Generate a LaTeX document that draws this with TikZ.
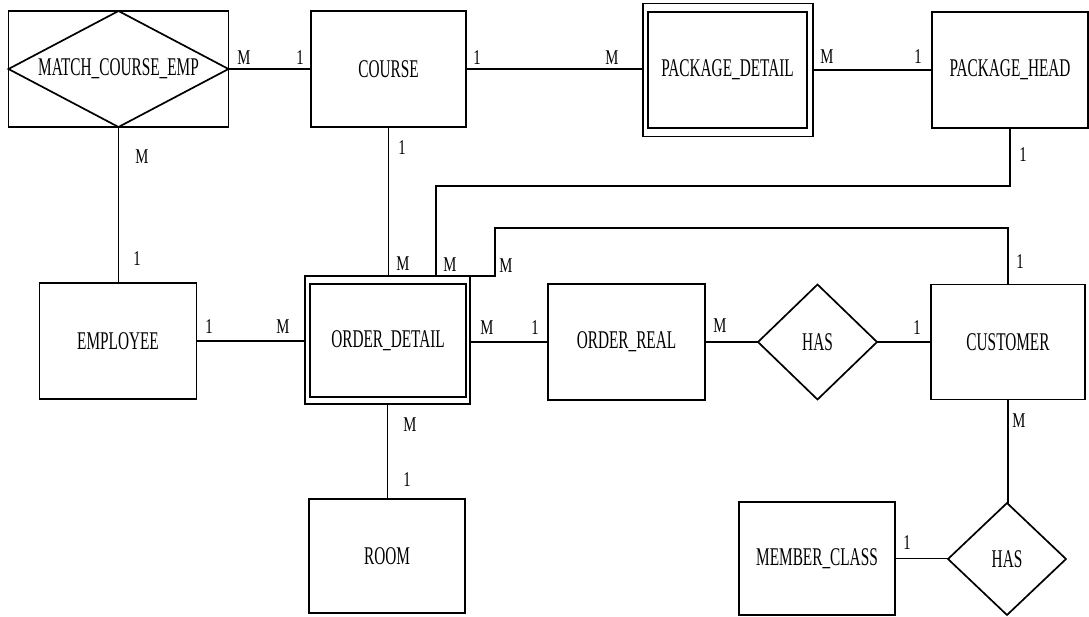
\documentclass[tikz,border=0pt]{standalone}
\usepackage{fontspec}
\setmainfont{Liberation Serif}[FakeStretch=0.6]
\newfontfamily\cardfont{Liberation Serif}[FakeStretch=0.7]
\usetikzlibrary{shapes.geometric}
\begin{document}
\begin{tikzpicture}[x=1pt,y=-1pt,
  ent/.style={draw, line width=1.9pt, minimum width=156pt, minimum height=116pt,
    inner sep=0pt, outer sep=0pt, font=\fontsize{25.5}{27}\selectfont},
  rel/.style={draw, diamond, line width=1.7pt, inner sep=0pt, outer sep=0pt,
    minimum width=119pt, minimum height=115pt, font=\fontsize{25.5}{27}\selectfont},
  conn/.style={line width=1.8pt},
  vconn/.style={line width=1.5pt},
  card/.style={font=\cardfont\fontsize{21}{23}\selectfont, inner sep=0pt}
]
\useasboundingbox[fill=white] (0,0) rectangle (1089,616);

% ---- top row ----
\node[ent, minimum width=220pt] (mce) at (118.5,69) {MATCH\_COURSE\_EMP};
\draw[line width=1.7pt] (mce.west) -- (mce.north) -- (mce.east) -- (mce.south) -- cycle;
\node[ent, minimum width=155pt] (course) at (388.5,69) {COURSE};
\node[ent, minimum width=170pt, minimum height=133pt] (pdo) at (728,70) {};
\node[ent, minimum width=159pt, minimum height=116pt] (pd) at (727.5,70) {PACKAGE\_DETAIL};
\node[ent] (ph) at (1010,70) {PACKAGE\_HEAD};

% ---- middle row ----
\node[ent, minimum width=157pt] (emp) at (118,341) {EMPLOYEE};
\node[ent, minimum width=165pt, minimum height=128pt] (odo) at (387.5,340) {};
\node[ent, minimum width=156pt, minimum height=113pt] (od) at (388,340.5) {ORDER\_DETAIL};
\node[ent, minimum width=157pt] (or) at (626.5,342) {ORDER\_REAL};
\node[rel] (has1) at (817.5,342) {HAS};
\node[ent, minimum width=154pt, minimum height=115pt] (cust) at (1008,342) {CUSTOMER};

% ---- bottom row ----
\node[ent, minimum height=114pt] (room) at (387,556) {ROOM};
\node[ent, minimum height=113pt] (mc) at (817,558.5) {MEMBER\_CLASS};
\node[rel, minimum width=118pt, minimum height=112pt] (has2) at (1007,559) {HAS};

% ---- connectors ----
\draw[conn] (mce.east) -- (mce.east -| course.west);
\draw[conn] (course.east) -- (course.east -| pdo.west);
\draw[conn] (pdo.east) -- (pdo.east -| ph.west);
\draw[conn] (emp.east) -- (emp.east -| odo.west);
\draw[conn] (odo.east |- or.west) -- (or.west);
\draw[conn] (or.east) -- (has1.west);
\draw[conn] (has1.east) -- (cust.west);
\draw[conn] (mc.east) -- (mc.east -| has2.west);

\draw[vconn] (mce.south) -- (mce.south |- emp.north);
\draw[vconn] (course.south) -- (course.south |- odo.north);
\coordinate (j1) at (436,186);
\draw[vconn] (ph.south) |- (j1) -- (j1 |- odo.north);
\coordinate (j2) at (495,228);
\draw[vconn] (cust.north) |- (j2) -- (j2 |- odo.north) -- (odo.north east);
\draw[vconn] (odo.south) -- (odo.south |- room.north);
\draw[vconn] (cust.south) -- (cust.south |- has2.north);

% ---- cardinalities ----
\node[card] (c1) at (244,58) {M};
\node[card] (c2) at (300,58) {1};
\node[card] (c3) at (477,58) {1};
\node[card] (c4) at (612,58) {M};
\node[card] (c5) at (827,57) {M};
\node[card] (c6) at (918,57) {1};
\node[card] (c7) at (142,157) {M};
\node[card] (c8) at (137,259) {1};
\node[card] (c9) at (402,148) {1};
\node[card] (c10) at (403,264) {M};
\node[card] (c11) at (450,265) {M};
\node[card] (c12) at (506,266) {M};
\node[card] (c13) at (1023,155) {1};
\node[card] (c14) at (1020,262) {1};
\node[card] (c15) at (209,327) {1};
\node[card] (c16) at (283,327) {M};
\node[card] (c17) at (487,328) {M};
\node[card] (c18) at (535,328) {1};
\node[card] (c19) at (720,326) {M};
\node[card] (c20) at (917,328) {1};
\node[card] (c21) at (410,425) {M};
\node[card] (c22) at (407,480) {1};
\node[card] (c23) at (1019,421) {M};
\node[card] (c24) at (907,543) {1};
\end{tikzpicture}
\end{document}
